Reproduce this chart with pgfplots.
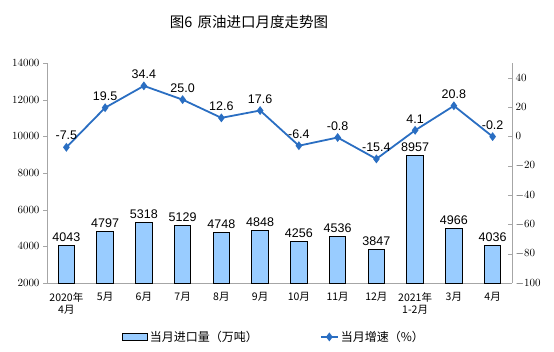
\documentclass[border=0pt]{standalone}
\usepackage{fontspec}
\setmainfont{Liberation Serif}
\newfontfamily\cjk{Noto Sans CJK SC}
\newfontfamily\arial{Liberation Sans}
\newfontfamily\tnr{Liberation Serif}
\usepackage{pgfplots}
\pgfplotsset{compat=1.18}
\definecolor{barfill}{HTML}{99CCFF}
\definecolor{linec}{HTML}{2A6EC2}
\definecolor{axgray}{HTML}{A6A6A6}
\begin{document}
\begin{tikzpicture}[x=1pt,y=1pt]
\useasboundingbox (0,0) rectangle (554,352);
\node[font=\cjk\fontsize{14.5}{16}\selectfont] at (249,330) {图6\hspace{5pt}原油进口月度走势图};
\begin{axis}[
  at={(47pt,69pt)}, anchor=south west,
  width=465pt, height=220pt, scale only axis,
  xmin=-0.5, xmax=11.5,
  ymin=2000, ymax=14000,
  ytick={2000,4000,...,14000},
  scaled y ticks=false,
  axis x line*=bottom, axis y line*=left,
  axis line style={axgray},
  y tick style={axgray}, ytick pos=left, tick align=outside,
  major tick length=4pt,
  xtick={0,...,11},
  xtick style={draw=none},
  minor xtick={-0.5,0.5,...,11.5},
  minor x tick style={axgray},
  minor tick length=3pt,
  xticklabels={{2020年\\4月},5月,6月,7月,8月,9月,10月,11月,12月,{2021年\\1-2月},3月,4月},
  x tick label style={font=\cjk\fontsize{10.5}{12.5}\selectfont, align=center, anchor=north, yshift=-2pt},
  y tick label style={font=\tnr\fontsize{10.5}{12}\selectfont},
  yticklabel={\tnr\pgfmathprintnumber[1000 sep={},fixed,precision=0]{\tick}},
  ybar, bar width=16.5pt,
  nodes near coords,
  nodes near coords style={font=\arial\fontsize{12.5}{14}\selectfont, text=black, /pgf/number format/1000 sep={}, /pgf/number format/assume math mode=true},
  clip=false,
]
\addplot[fill=barfill, draw=black, line width=0.9pt] coordinates {
(0,4043) (1,4797) (2,5318) (3,5129) (4,4748) (5,4848) (6,4256) (7,4536) (8,3847) (9,8957) (10,4966) (11,4036)};
\end{axis}
\begin{axis}[
  at={(47pt,69pt)}, anchor=south west,
  width=465pt, height=220pt, scale only axis,
  xmin=-0.5, xmax=11.5,
  ymin=-100, ymax=50,
  ytick={-100,-80,...,40},
  axis x line=none, axis y line*=right,
  axis line style={axgray},
  y tick style={axgray}, tick align=inside, major tick length=4pt,
  y tick label style={font=\tnr\fontsize{10.5}{12}\selectfont},
  yticklabel={\tnr\pgfmathprintnumber[fixed,precision=0]{\tick}},
  clip=false,
  legend style={at={(0.488,-0.245)}, anchor=center, draw=none, legend columns=2,
    font=\cjk\fontsize{12}{14}\selectfont,
    /tikz/every even column/.append style={column sep=60pt}},
]
\addlegendimage{area legend, legend image code/.code={\draw[fill=barfill,draw=black,line width=0.9pt] (0pt,-3.5pt) rectangle (25pt,3.5pt);}}
\addlegendentry{当月进口量（万吨）}
\addplot[color=linec, line width=1.8pt, mark=diamond*, mark size=3pt,
  nodes near coords, point meta=explicit symbolic,
  nodes near coords style={font=\arial\fontsize{12.5}{14}\selectfont, text=black, anchor=south, yshift=3pt}]
  coordinates {
(0,-7.5) [-7.5] (1,19.5) [19.5] (2,34.4) [34.4] (3,25.0) [25.0] (4,12.6) [12.6] (5,17.6) [17.6] (6,-6.4) [-6.4] (7,-0.8) [-0.8] (8,-15.4) [-15.4] (9,4.1) [4.1] (10,20.8) [20.8] (11,-0.2) [-0.2]};
\addlegendentry{当月增速（\%）}
\end{axis}
\end{tikzpicture}
\end{document}
